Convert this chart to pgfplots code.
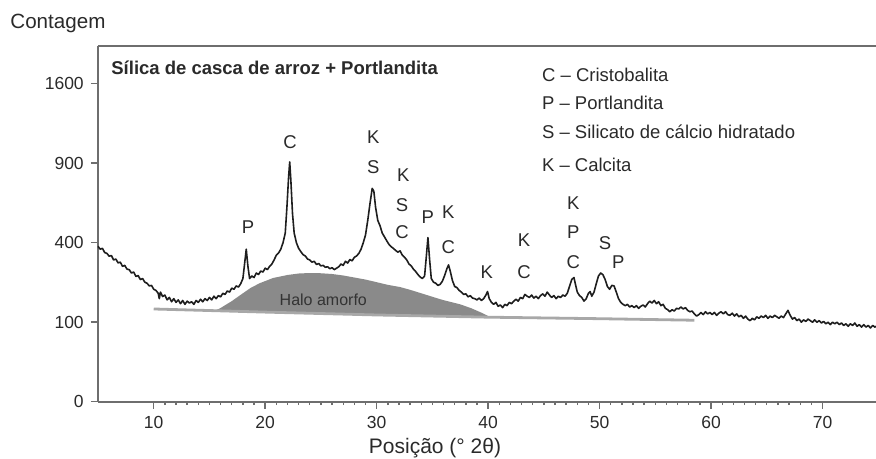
\documentclass[border=0pt]{standalone}
\usepackage{fontspec}
\setmainfont{Liberation Sans}
\usepackage{pgfplots}
\usepackage{pgfplotstable}
\pgfplotsset{compat=1.18}
\definecolor{axisgray}{HTML}{6E6E6E}
\definecolor{halogray}{HTML}{8A8A8A}
\definecolor{basegray}{HTML}{A8A8A8}
\definecolor{txt}{HTML}{2A2A2A}
\definecolor{curve}{HTML}{1E1E1E}

\pgfplotstableread{
x y
5.0 382
5.2 368
5.4 372
5.6 352
5.8 348
6.0 335
6.2 338
6.4 318
6.6 322
6.8 305
7.0 308
7.2 290
7.4 294
7.6 278
7.8 276
8.0 262
8.2 266
8.4 248
8.6 252
8.8 236
9.0 240
9.2 226
9.4 222
9.6 212
9.8 214
10.0 200
10.2 196
10.4 186
10.5 168
10.6 190
10.8 175
11.0 180
11.2 164
11.4 172
11.6 158
11.8 168
12.0 156
12.2 164
12.4 152
12.6 162
12.8 150
13.0 160
13.2 154
13.4 158
13.6 150
13.8 162
14.0 156
14.2 166
14.4 158
14.6 168
14.8 162
15.0 172
15.2 164
15.4 176
15.6 168
15.8 178
16.0 174
16.2 186
16.4 182
16.6 194
16.8 190
17.0 204
17.2 200
17.4 212
17.6 208
17.8 220
18.0 240
18.15 300
18.3 368
18.45 290
18.6 240
18.8 250
19.0 244
19.2 262
19.4 256
19.6 270
19.8 266
20.0 282
20.2 276
20.4 290
20.6 300
20.8 318
21.0 340
21.2 350
21.4 368
21.6 400
21.8 450
21.95 600
22.1 800
22.2 910
22.3 780
22.45 560
22.6 450
22.8 400
23.0 372
23.2 356
23.4 342
23.6 336
23.8 322
24.0 318
24.2 308
24.4 312
24.6 298
24.8 302
25.0 292
25.2 294
25.4 286
25.6 288
25.8 280
26.0 284
26.2 276
26.4 282
26.6 288
26.8 300
27.0 294
27.2 312
27.4 304
27.6 320
27.8 314
28.0 330
28.2 336
28.4 348
28.6 368
28.8 400
29.0 440
29.2 520
29.4 620
29.6 720
29.75 700
29.9 600
30.1 520
30.3 490
30.5 450
30.7 430
30.9 410
31.1 392
31.3 380
31.5 372
31.7 362
31.9 354
32.1 360
32.3 340
32.5 330
32.7 318
32.9 300
33.1 292
33.3 278
33.5 268
33.7 256
33.9 246
34.1 240
34.3 250
34.45 330
34.6 426
34.75 320
34.9 240
35.1 226
35.3 222
35.5 214
35.7 218
35.9 230
36.1 252
36.3 280
36.45 296
36.6 270
36.8 232
37.0 210
37.2 206
37.4 196
37.6 190
37.8 182
38.0 184
38.2 174
38.4 178
38.6 170
38.8 168
39.0 164
39.2 170
39.4 162
39.6 168
39.8 180
39.95 192
40.1 168
40.3 156
40.5 150
40.7 156
40.9 144
41.1 148
41.3 140
41.5 150
41.7 146
41.9 156
42.1 152
42.3 160
42.5 166
42.7 160
42.9 172
43.1 168
43.3 182
43.5 176
43.7 172
43.9 180
44.1 170
44.3 176
44.5 168
44.7 178
44.9 184
45.1 176
45.3 190
45.5 180
45.7 172
45.9 178
46.1 168
46.3 176
46.5 172
46.7 180
46.9 176
47.1 186
47.3 210
47.5 236
47.7 244
47.85 215
48.0 190
48.2 178
48.4 172
48.6 160
48.8 168
49.0 186
49.15 192
49.3 176
49.5 190
49.7 220
49.9 250
50.1 262
50.3 255
50.5 236
50.7 210
50.9 200
51.1 214
51.3 212
51.5 190
51.7 168
51.9 156
52.1 150
52.3 146
52.5 150
52.7 142
52.9 146
53.1 140
53.3 146
53.5 138
53.7 144
53.9 148
54.1 142
54.3 152
54.5 160
54.7 154
54.9 162
55.1 152
55.3 158
55.5 146
55.7 150
55.9 138
56.1 134
56.3 128
56.5 134
56.7 130
56.9 138
57.1 136
57.3 142
57.5 136
57.7 140
57.9 132
58.1 128
58.3 130
58.5 122
58.7 116
58.9 120
59.1 126
59.3 120
59.5 128
59.7 122
59.9 126
60.1 120
60.3 126
60.5 118
60.7 124
60.9 128
61.1 122
61.3 128
61.5 120
61.7 118
61.9 124
62.1 116
62.3 122
62.5 114
62.7 118
62.9 110
63.1 116
63.3 108
63.5 104
63.7 110
63.9 106
64.1 114
64.3 110
64.5 116
64.7 112
64.9 118
65.1 110
65.3 116
65.5 112
65.7 118
65.9 114
66.1 110
66.3 116
66.5 112
66.7 122
66.9 132
67.1 118
67.3 108
67.5 112
67.7 104
67.9 108
68.1 100
68.3 106
68.5 102
68.7 108
68.9 104
69.1 100
69.3 106
69.5 100
69.7 104
69.9 98
70.1 102
70.3 96
70.5 100
70.7 94
70.9 100
71.1 96
71.3 100
71.5 94
71.7 98
71.9 92
72.1 96
72.3 90
72.5 96
72.7 92
72.9 98
73.1 90
73.3 94
73.5 88
73.7 94
73.9 88
74.1 92
74.3 86
74.5 92
74.7 88
74.8 90
}\trace

\pgfplotstableread{
x y
15.5 131
16.0 139
17.0 160
18.0 186
18.7 205
19.5 222
20.7 242
22.0 254
23.0 260
24.0 262
25.0 261
26.0 258
27.0 252
28.0 244
29.0 236
30.0 226
31.0 216
32.1 208
33.0 198
34.0 186
35.1 173
36.0 163
37.5 150
38.5 138
39.5 124
40.2 113
40.0 113
35.0 116
30.0 119
25.0 123
20.0 127
15.5 131
}\halo

\pgfplotstableread{
x y
10.0 136
20.0 127
30.0 119
40.0 113
50.0 109
58.5 105
}\baseline

\begin{document}
\begin{tikzpicture}
\begin{axis}[
  at={(0,0)}, anchor=south west,
  scale only axis,
  width=389pt, height=178pt,
  xmin=5, xmax=74.8,
  ymin=0, ymax=44.78,
  y filter/.expression={sqrt(y)},
  axis x line*=box,
  axis y line*=left,
  xtick pos=bottom,
  ytick pos=left,
  tick align=outside,
  xtick={10,20,...,70},
  minor x tick num=9,
  ytick={0,10,20,30,40},
  yticklabels={0,100,400,900,1600},
  major tick length=3.6pt,
  minor tick length=1.7pt,
  axis line style={draw=axisgray, line width=1.1pt},
  every tick/.style={draw=axisgray, line width=0.7pt},
  /pgf/number format/assume math mode=true,
  tick label style={font=\fontsize{8.75}{10}\selectfont, text=txt},
  clip=false,
]
\addplot[fill=halogray, draw=none] table {\halo};
\addplot[draw=basegray, line width=1.4pt] table {\baseline};
\addplot[draw=curve, line width=0.8pt, line join=round] table {\trace};

\begin{scope}[every node/.style={inner sep=0pt, text=txt, font=\fontsize{9.25}{11}\selectfont}]
\node[anchor=base west, font=\fontsize{9.25}{11}\selectfont\bfseries] at (rel axis cs:0.0167,0.9177) {Sílica de casca de arroz + Portlandita};
\node[anchor=base west] at (rel axis cs:0.5703,0.8989) {C – Cristobalita};
\node[anchor=base west] at (rel axis cs:0.5703,0.8194) {P – Portlandita};
\node[anchor=base west] at (rel axis cs:0.5703,0.7399) {S – Silicato de cálcio hidratado};
\node[anchor=base west] at (rel axis cs:0.5703,0.6461) {K – Calcita};
\node[anchor=base west, font=\fontsize{10.3}{12}\selectfont] at (rel axis cs:-0.1131,1.0483) {Contagem};
\node[anchor=base, font=\fontsize{10.5}{12}\selectfont] at (rel axis cs:0.4332,-0.1469) {Posição (° 2θ)};
\node[font=\fontsize{8}{10}\selectfont, text=black!80] at (rel axis cs:0.2896,0.2857) {Halo amorfo};
% peak letters
\node at (rel axis cs:0.1928,0.4907) {P};
\node at (rel axis cs:0.2468,0.7295) {C};
\node at (rel axis cs:0.3539,0.7444) {K};
\node at (rel axis cs:0.3539,0.6601) {S};
\node at (rel axis cs:0.3924,0.6368) {K};
\node at (rel axis cs:0.3907,0.5525) {S};
\node at (rel axis cs:0.3907,0.4775) {C};
\node at (rel axis cs:0.4238,0.5197) {P};
\node at (rel axis cs:0.4503,0.5329) {K};
\node at (rel axis cs:0.4503,0.4331) {C};
\node at (rel axis cs:0.4996,0.3652) {K};
\node at (rel axis cs:0.5476,0.4542) {K};
\node at (rel axis cs:0.5476,0.3652) {C};
\node at (rel axis cs:0.6109,0.5590) {K};
\node at (rel axis cs:0.6109,0.4775) {P};
\node at (rel axis cs:0.6109,0.3933) {C};
\node at (rel axis cs:0.6517,0.4449) {S};
\node at (rel axis cs:0.6688,0.3933) {P};
\end{scope}
\end{axis}
\pgfresetboundingbox
\useasboundingbox (-49pt,-28.65pt) rectangle (389pt,200.85pt);
\end{tikzpicture}
\end{document}
